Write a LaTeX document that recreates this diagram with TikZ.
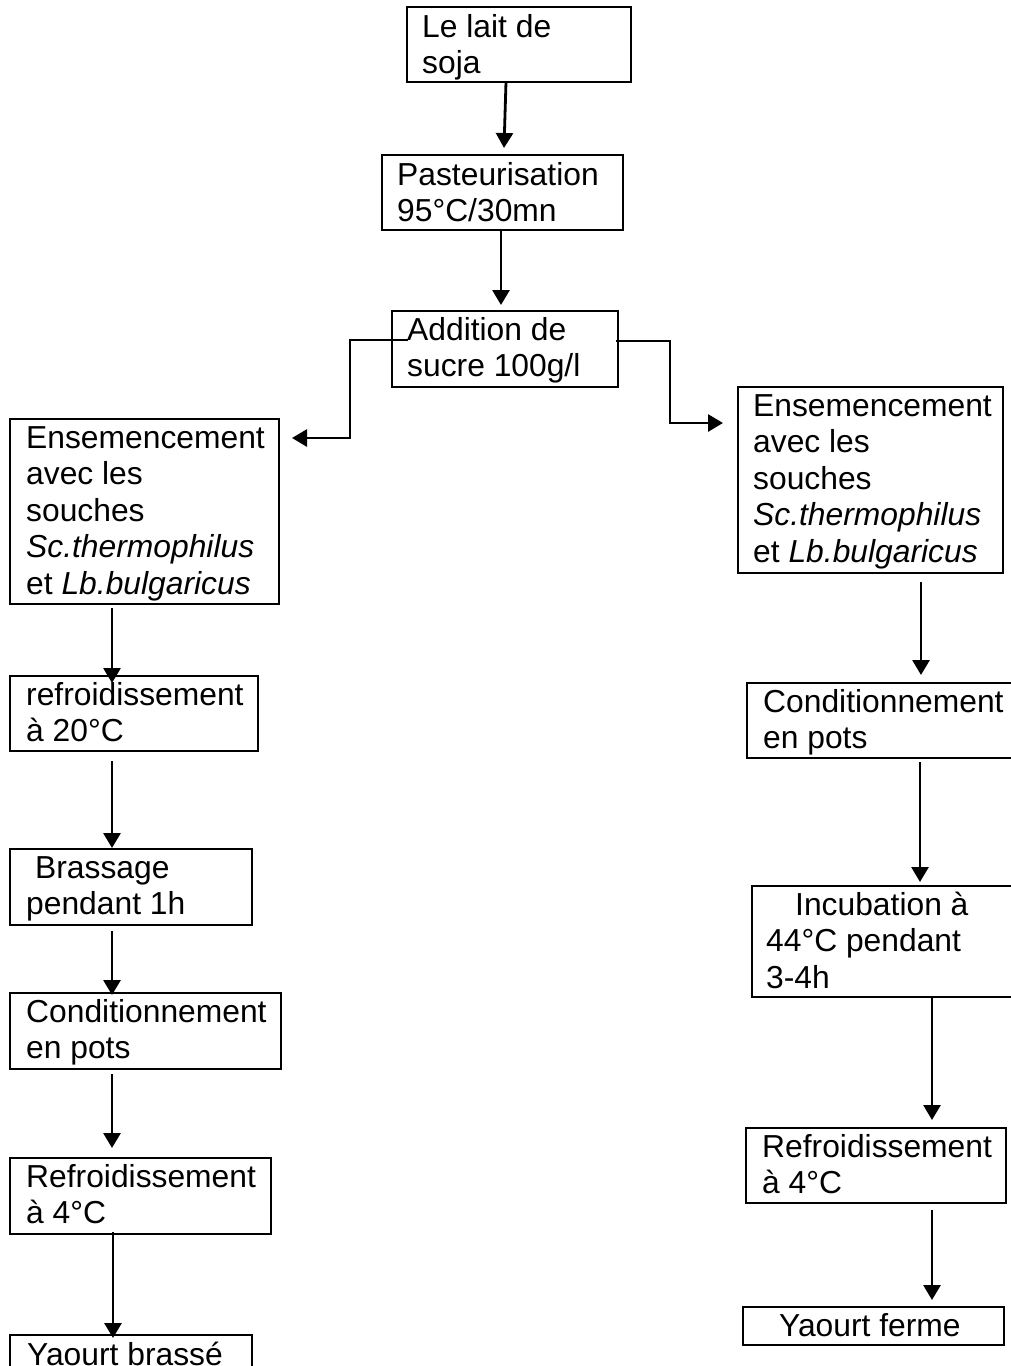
\documentclass[tikz,border=0pt]{standalone}
\usepackage{fontspec}
\setmainfont{Liberation Sans}
\usetikzlibrary{arrows.meta,calc}
\newcommand\txt[1]{\begin{tabular}[t]{@{}l@{}}#1\end{tabular}}
\tikzset{
 box/.style={draw, line width=2.8pt, inner sep=0pt, outer sep=0pt, anchor=north west, rectangle},
 lbl/.style={anchor=base west, inner sep=0pt, font=\fontsize{31.8}{36.6}\selectfont},
 arr/.style={line width=2.8pt, -{Triangle[width=17pt,length=15pt]}},
}
\begin{document}
\begin{tikzpicture}[x=1pt,y=-1pt]
\useasboundingbox (0,0) rectangle (1010,1366);
% boxes
\node[box, minimum width=224pt, minimum height=75pt] (b1) at (407,7) {};
\node[box, minimum width=241pt, minimum height=75pt] (b2) at (382,155) {};
\node[box, minimum width=226pt, minimum height=76pt] (b3) at (392,311) {};
\node[box, minimum width=269pt, minimum height=185pt] (L1) at (10,419) {};
\node[box, minimum width=248pt, minimum height=75pt] (L2) at (10,676) {};
\node[box, minimum width=242pt, minimum height=76pt] (L3) at (10,849) {};
\node[box, minimum width=271pt, minimum height=76pt] (L4) at (10,993) {};
\node[box, minimum width=261pt, minimum height=76pt] (L5) at (10,1158) {};
\node[box, minimum width=242pt, minimum height=50pt] (L6) at (10,1335) {};
\node[box, minimum width=265pt, minimum height=186pt] (R1) at (738,387) {};
\node[box, minimum width=270pt, minimum height=75pt] (R2) at (747,683) {};
\node[box, minimum width=262pt, minimum height=111pt] (R3) at (752,886) {};
\node[box, minimum width=260pt, minimum height=75pt] (R4) at (746,1128) {};
\node[box, minimum width=261pt, minimum height=38pt] (R5) at (743,1307) {};
% texts
\node[lbl] (tb1) at ($(b1.north west)+(15,30)$) {\txt{Le lait de\\soja}};
\node[lbl] (tb2) at ($(b2.north west)+(15,30)$) {\txt{Pasteurisation\\95°C/30mn}};
\node[lbl] (tb3) at ($(b3.north west)+(15,29)$) {\txt{Addition de\\sucre 100g/l}};
\node[lbl] (tL1) at ($(L1.north west)+(16,29)$) {\txt{Ensemencement\\avec les\\souches\\\textit{Sc.thermophilus}\\et \textit{Lb.bulgaricus}}};
\node[lbl] (tL2) at ($(L2.north west)+(16,29)$) {\txt{refroidissement\\à 20°C}};
\node[lbl] (tL3) at ($(L3.north west)+(16,29)$) {\txt{\hspace{9pt}Brassage\\pendant 1h}};
\node[lbl] (tL4) at ($(L4.north west)+(16,29)$) {\txt{Conditionnement\\en pots}};
\node[lbl] (tL5) at ($(L5.north west)+(16,29)$) {\txt{Refroidissement\\à 4°C}};
\node[lbl] (tL6) at ($(L6.north west)+(17,30)$) {\txt{Yaourt brassé}};
\node[lbl] (tR1) at ($(R1.north west)+(15,29)$) {\txt{Ensemencement\\avec les\\souches\\\textit{Sc.thermophilus}\\et \textit{Lb.bulgaricus}}};
\node[lbl] (tR2) at ($(R2.north west)+(16,29)$) {\txt{Conditionnement\\en pots}};
\node[lbl] (tR3) at ($(R3.north west)+(14,29)$) {\txt{\hspace{29pt}Incubation à\\44°C pendant\\3-4h}};
\node[lbl] (tR4) at ($(R4.north west)+(16,29)$) {\txt{Refroidissement\\à 4°C}};
\node[lbl] (tR5) at ($(R5.north west)+(36,29)$) {\txt{Yaourt ferme}};
% connectors
\draw[arr] ($(b1.south west)+(99,0)$) -- ($(b2.north west)+(122,-7)$);
\draw[arr] ($(b2.south west)+(119,0)$) -- ($(b3.north west)+(109,-6)$);
\draw[arr] ($(b3.north west)+(16,29)$) -- ++(-58,0) |- ($(L1.north east)+(13,19)$);
\draw[arr] ($(b3.north east)+(-2,30)$) -- ++(54,0) |- ($(R1.north west)+(-15,36)$);
\draw[arr] ($(L1.south west)+(102,4)$) -- ($(L2.north west)+(102,7)$);
\draw[arr] ($(L2.south west)+(102,10)$) -- ($(L3.north west)+(102,-1)$);
\draw[arr] ($(L3.south west)+(102,6)$) -- ($(L4.north west)+(102,2)$);
\draw[arr] ($(L4.south west)+(102,5)$) -- ($(L5.north west)+(102,-10)$);
\draw[arr] ($(L5.south west)+(103,-2)$) -- ($(L6.north west)+(103,3)$);
\draw[arr] ($(R1.south west)+(183,9)$) -- ($(R2.north west)+(174,-8)$);
\draw[arr] ($(R2.south west)+(173,4)$) -- ($(R3.north west)+(168,-4)$);
\draw[arr] ($(R3.south west)+(180,0)$) -- ($(R4.north west)+(186,-8)$);
\draw[arr] ($(R4.south west)+(186,7)$) -- ($(R5.north west)+(189,-7)$);
\end{tikzpicture}
\end{document}
